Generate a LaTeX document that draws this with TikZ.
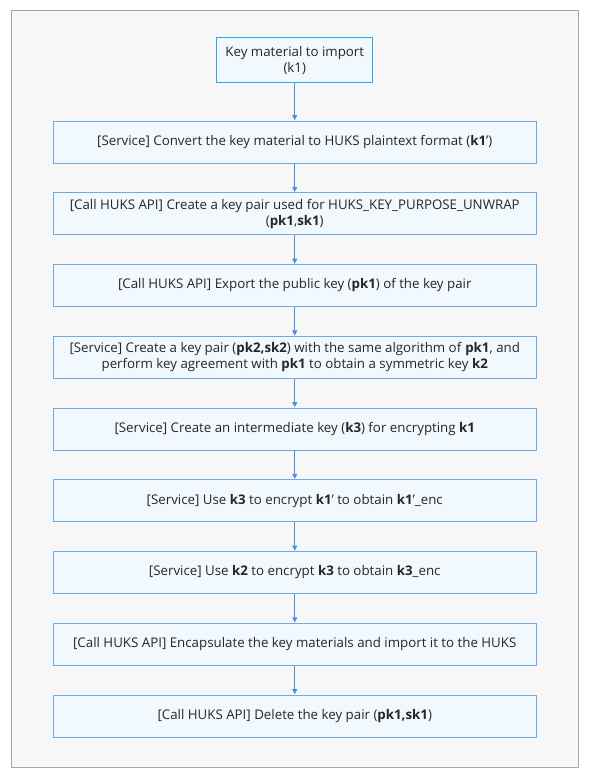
\documentclass[tikz,border=0pt]{standalone}
\usepackage{fontspec}
\setmainfont{Open Sans}
\usetikzlibrary{arrows.meta}
\definecolor{bgc}{HTML}{F7F7F7}
\definecolor{framec}{HTML}{A6A6A6}
\definecolor{boxfill}{HTML}{F1F8FE}
\definecolor{boxline}{HTML}{6FAAE6}
\definecolor{topline}{HTML}{2EA8F0}
\definecolor{arrowc}{HTML}{4A90E2}
\definecolor{txt}{HTML}{262626}
\tikzset{
  framebox/.style={draw=framec, fill=bgc, line width=0.9pt},
  topbox/.style={draw=topline, fill=boxfill, line width=0.9pt, minimum width=156pt, minimum height=44.6pt, align=center, inner sep=0pt, text=txt, font=\fontsize{13.3}{16}\selectfont},
  widebox/.style={draw=boxline, fill=boxfill, line width=0.9pt, minimum width=483.5pt, minimum height=42pt, align=center, inner sep=0pt, text=txt, font=\fontsize{13.3}{16}\selectfont},
  flow/.style={draw=arrowc, line width=0.8pt, -{Triangle[length=5pt,width=5pt]}, shorten >=0.4pt}
}
\begin{document}
\begin{tikzpicture}[x=1pt,y=-1pt]
\useasboundingbox (0,0) rectangle (593,782);
\draw[framebox] (11,10) rectangle (578.5,767);
\node[topbox] (n1) at (294.75,60) {Key material to import\\(k1)};
\node[widebox] (n2) at (294.75,142) {[Service] Convert the key material to HUKS plaintext format (\textbf{k1}')};
\node[widebox] (n3) at (294.75,213.75) {[Call HUKS API] Create a key pair used for HUKS\_KEY\_PURPOSE\_UNWRAP\\(\textbf{pk1},\textbf{sk1})};
\node[widebox] (n4) at (294.75,285.5) {[Call HUKS API] Export the public key (\textbf{pk1}) of the key pair};
\node[widebox] (n5) at (294.75,357.25) {[Service] Create a key pair (\textbf{pk2,sk2}) with the same algorithm of \textbf{pk1}, and\\perform key agreement with \textbf{pk1} to obtain a symmetric key \textbf{k2}};
\node[widebox] (n6) at (294.75,429) {[Service] Create an intermediate key (\textbf{k3}) for encrypting \textbf{k1}};
\node[widebox] (n7) at (294.75,500.75) {[Service] Use \textbf{k3} to encrypt \textbf{k1}' to obtain \textbf{k1}'\_enc};
\node[widebox] (n8) at (294.75,572.5) {[Service] Use \textbf{k2} to encrypt \textbf{k3} to obtain \textbf{k3}\_enc};
\node[widebox] (n9) at (294.75,644.25) {[Call HUKS API] Encapsulate the key materials and import it to the HUKS};
\node[widebox] (n10) at (294.75,716) {[Call HUKS API] Delete the key pair (\textbf{pk1,sk1})};
\foreach \a/\b in {n1/n2,n2/n3,n3/n4,n4/n5,n5/n6,n6/n7,n7/n8,n8/n9,n9/n10}
  \draw[flow] (\a) -- (\b);
\end{tikzpicture}
\end{document}
